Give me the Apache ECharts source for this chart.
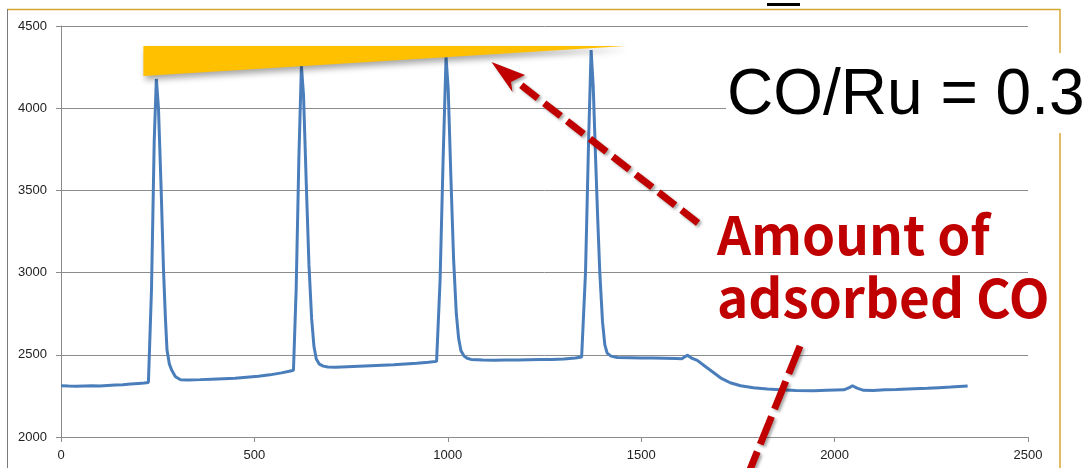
<!DOCTYPE html>
<html>
<head>
<meta charset="utf-8">
<script src="https://cdn.jsdelivr.net/npm/echarts@6/dist/echarts.min.js"></script>
<style>
  html, body { margin: 0; padding: 0; background: #ffffff; }
  #chart { width: 1086px; height: 468px; }
</style>
</head>
<body>
<div id="chart"></div>
<script>
// Axis settings
const xTicks = { min: 0, max: 2500, interval: 500 };
const yTicks = { min: 2000, max: 4500, interval: 500 };

// Detector signal: time vs. intensity, four CO pulses
const baseline0 = [[0,2312],[20,2310],[40,2309],[60,2310],[80,2311],[100,2310],[120,2313],[140,2316],[160,2318],[180,2322],[200,2326],[215,2329],[226,2332]];
const pulse1 = [[229,2334],[234,2900],[241,3800],[246.5,4178],[252,4000],[259,3500],[265,3017],[270,2720],[274,2530],[280,2445],[286,2408],[296,2366],[309,2348]];
const baseline1 = [[330,2347],[360,2349],[390,2352],[420,2355],[450,2358],[480,2364],[510,2370],[540,2378],[570,2390],[590,2400],[601,2406]];
const pulse2 = [[603,2412],[608,2900],[615,3700],[621.5,4257],[627,4080],[634,3550],[641,3050],[648,2720],[654,2550],[660,2475],[668,2443],[678,2431],[690,2426]];
const baseline2 = [[710,2425],[740,2428],[770,2431],[800,2434],[830,2437],[860,2440],[890,2444],[920,2448],[950,2454],[971,2460]];
const pulse3 = [[974,2466],[980,2950],[988,3700],[995.5,4310],[1001,4120],[1008,3580],[1015,3080],[1022,2750],[1028,2600],[1034,2525],[1042,2492],[1050,2479],[1060,2472]];
const baseline3 = [[1090,2468],[1120,2467],[1150,2468],[1180,2469],[1210,2470],[1240,2471],[1270,2472],[1300,2474],[1330,2480],[1346,2486]];
const pulse4 = [[1349,2490],[1356,3000],[1364,3800],[1370.5,4354],[1376,4130],[1382,3700],[1388,3300],[1393,3000],[1400,2700],[1406,2560],[1412,2510],[1422,2492],[1438,2484]];
const tail = [[1470,2482],[1500,2480],[1530,2481],[1560,2479],[1590,2477],[1605,2476],[1619,2498],[1632,2478],[1645,2466],[1665,2430],[1685,2395],[1705,2360],[1730,2330],[1757,2312],[1790,2300],[1826,2292],[1860,2287],[1900,2283],[1946,2281],[1980,2284],[2024,2287],[2038,2300],[2046,2312],[2058,2297],[2075,2284],[2100,2283],[2130,2287],[2160,2289],[2205,2293],[2240,2296],[2270,2300],[2300,2304],[2344,2310]];

const signal = [].concat(baseline0, pulse1, baseline1, pulse2, baseline2, pulse3, baseline3, pulse4, tail);

// Wedge tracing the growth of the pulse heights (data space)
const envelope = [[213, 4378], [213, 4196], [1460, 4378]];

const axisGrey = '#8c8c8c';
const labelStyle = { color: '#222222', fontSize: 13, fontFamily: 'Liberation Sans', formatter: function (v) { return String(v); } };
const red = '#c00000';
const gold = '#d6a632';
const dropShadow = { shadowBlur: 3, shadowOffsetX: 2, shadowOffsetY: 2, shadowColor: 'rgba(0,0,0,0.35)' };

const chart = echarts.init(document.getElementById('chart'), null, { renderer: 'canvas' });

chart.setOption({
  animation: false,
  backgroundColor: '#ffffff',
  grid: { left: 61, right: 58, top: 26, bottom: 31 },
  xAxis: {
    type: 'value',
    min: xTicks.min, max: xTicks.max, interval: xTicks.interval,
    axisLine: { show: true, lineStyle: { color: axisGrey, width: 1 } },
    axisTick: { show: true, length: 5, lineStyle: { color: axisGrey } },
    axisLabel: Object.assign({ margin: 12 }, labelStyle),
    splitLine: { show: false }
  },
  yAxis: {
    type: 'value',
    min: yTicks.min, max: yTicks.max, interval: yTicks.interval,
    axisLine: { show: true, lineStyle: { color: axisGrey, width: 1 } },
    axisTick: { show: true, length: 5, lineStyle: { color: axisGrey } },
    axisLabel: Object.assign({ margin: 14 }, labelStyle),
    splitLine: { show: true, lineStyle: { color: axisGrey, width: 1 } }
  },
  series: [
    {
      type: 'line',
      data: signal,
      showSymbol: false,
      smooth: false,
      lineStyle: { color: '#4a7ebb', width: 3 },
      z: 3
    },
    {
      type: 'custom',
      data: [0],
      silent: true,
      z: 4,
      renderItem: function (params, api) {
        const pts = envelope.map(function (p) { return api.coord(p); });
        return {
          type: 'polygon',
          shape: { points: pts },
          style: {
            fill: '#ffc000',
            shadowBlur: 6,
            shadowOffsetX: 2,
            shadowOffsetY: 4,
            shadowColor: 'rgba(0,0,0,0.35)'
          }
        };
      }
    }
  ],
  graphic: [
    // frame
    { type: 'line', z: 1, shape: { x1: 7, y1: 9.5, x2: 1060, y2: 9.5 }, style: { stroke: gold, lineWidth: 1.5 } },
    { type: 'line', z: 1, shape: { x1: 1060, y1: 9, x2: 1060, y2: 468 }, style: { stroke: gold, lineWidth: 1.5 } },
    { type: 'line', z: 1, shape: { x1: 7.5, y1: 9, x2: 7.5, y2: 468 }, style: { stroke: '#7a7a7a', lineWidth: 1 } },
    { type: 'rect', z: 1, shape: { x: 767, y: 3, width: 33, height: 3 }, style: { fill: '#000000' } },

    // ratio label on a white patch
    { type: 'rect', z: 10, shape: { x: 726, y: 53, width: 360, height: 80 }, style: { fill: '#ffffff' } },
    { type: 'text', z: 11, x: 727, y: 128,
      style: { text: 'CO/Ru = 0.3', font: '64px "Liberation Sans"', fill: '#000000', textVerticalAlign: 'bottom' } },

    // annotation text
    { type: 'text', z: 11, x: 717, y: 208,
      style: { text: 'Amount of', font: 'bold 53px "Noto Sans CJK JP"', fill: red, textVerticalAlign: 'top' } },
    { type: 'text', z: 11, x: 717, y: 271,
      style: { text: 'adsorbed CO', font: 'bold 53px "Noto Sans CJK JP"', fill: red, textVerticalAlign: 'top' } },

    // arrow towards the wedge
    { type: 'line', z: 12, shape: { x1: 698, y1: 223, x2: 517, y2: 82 },
      style: Object.assign({ stroke: red, lineWidth: 7, lineDash: [21, 8] }, dropShadow) },
    { type: 'polygon', z: 12, shape: { points: [[491.5, 62], [525, 75], [511, 82], [512.5, 92]] },
      style: Object.assign({ fill: red }, dropShadow) },

    // second dashed pointer running off the bottom
    { type: 'line', z: 12, shape: { x1: 800, y1: 346, x2: 745, y2: 482 },
      style: Object.assign({ stroke: red, lineWidth: 7, lineDash: [30, 8] }, dropShadow) }
  ]
});
</script>
</body>
</html>
